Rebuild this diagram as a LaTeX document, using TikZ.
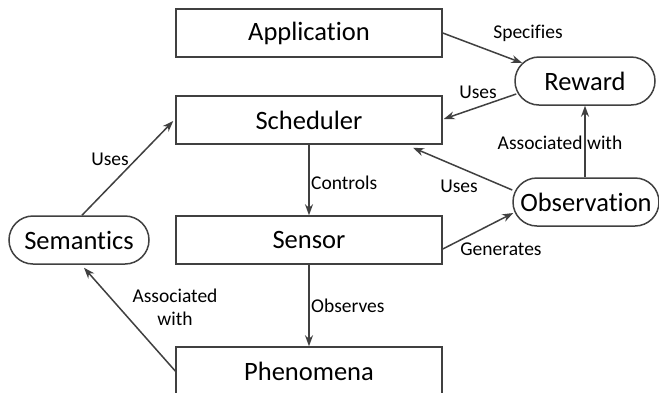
\documentclass[tikz,border=0pt]{standalone}
\usepackage{fontspec}
\setmainfont{Carlito}[Ligatures=NoCommon]
\usetikzlibrary{arrows.meta,shapes.misc,calc}
\definecolor{edge}{HTML}{404040}
\tikzset{
  box/.style={draw=edge,line width=1.5pt,minimum width=266pt,minimum height=48pt,inner sep=0pt,font=\fontsize{26.5}{30}\selectfont},
  pill/.style={rounded rectangle,draw=edge,line width=1.5pt,minimum height=48pt,inner sep=0pt,font=\fontsize{26.5}{30}\selectfont},
  conn/.style={draw=edge,line width=1.5pt,-{Stealth[length=11pt,width=8pt]}},
  lbl/.style={font=\fontsize{19.5}{23}\selectfont,inner sep=0pt,text=black}
}
\begin{document}
\begin{tikzpicture}[x=1pt,y=-1pt]
\useasboundingbox (0,0) rectangle (659,392);
\clip (0,0) rectangle (659,392);
\fill[white] (0,0) rectangle (659,392);
\node[box] (app) at (309,33) {Application};
\node[box] (sched) at (309,120) {Scheduler};
\node[box] (sensor) at (309,240) {Sensor};
\node[box] (phen) at (309,371) {Phenomena};
\node[pill,minimum width=140pt] (rew) at (585,81) {Reward};
\node[pill,minimum width=146pt] (obs) at (586,202) {Observation};
\node[pill,minimum width=140pt] (sem) at (79,240) {Semantics};
% connectors
\draw[conn] (app.east) -- ($(rew.west)+(8,-18)$);
\draw[conn] ($(rew.west)+(2,13)$) -- ($(sched.east)+(1,-1)$);
\draw[conn] (obs.north -| rew.south) -- (rew.south);
\draw[conn] ($(obs.west)+(0,-12)$) -- ($(sched.south)+(104,3)$);
\draw[conn] (sched.south) -- (sensor.north);
\draw[conn] ($(sensor.east)+(0,9)$) -- ($(obs.west)+(1,11)$);
\draw[conn] (sensor.south) -- (phen.north);
\draw[conn] (phen.west) -- ($(sem.south)+(5,3)$);
\draw[conn] ($(sem.north)+(3,0)$) -- ($(sched.west)+(-2,1)$);
% labels
\node[lbl] (l1) at (528,33) {Specifies};
\node[lbl] (l2) at (478,92) {Uses};
\node[lbl] (l3) at (560,143) {Associated with};
\node[lbl] (l4) at (459,186) {Uses};
\node[lbl,anchor=west] (l5) at (311,183) {Controls};
\node[lbl] (l6) at (501,249) {Generates};
\node[lbl,anchor=west] (l7) at (311,306) {Observes};
\node[lbl,align=center] (l8) at (175,307) {Associated\\with};
\node[lbl] (l9) at (110,159) {Uses};
\end{tikzpicture}
\end{document}
